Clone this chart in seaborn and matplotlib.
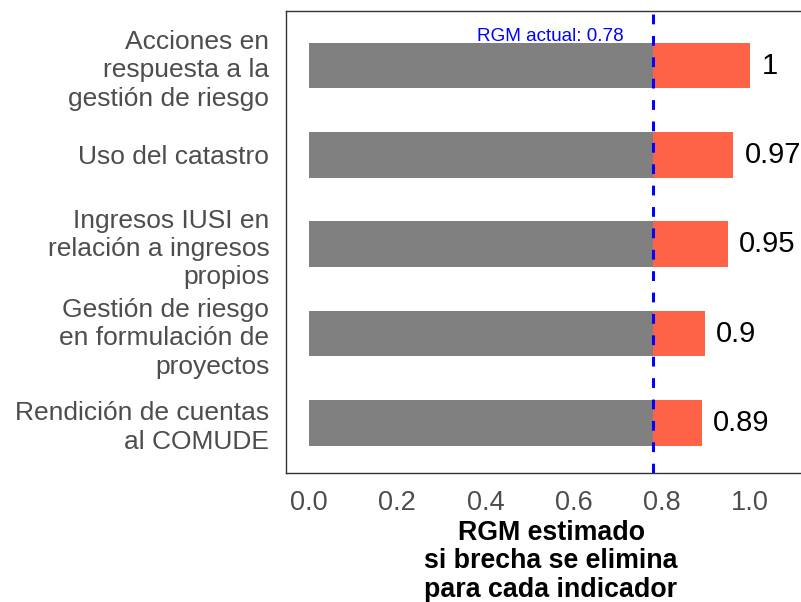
import matplotlib
matplotlib.use("Agg")
import matplotlib.pyplot as plt
import seaborn as sns
import pandas as pd

# ---- data ----
indicadores = [
    "Acciones en\nrespuesta a la\ngestión de riesgo",
    "Uso del catastro",
    "Ingresos IUSI en\nrelación a ingresos\npropios",
    "Gestión de riesgo\nen formulación de\nproyectos",
    "Rendición de cuentas\nal COMUDE",
]
rgm_estimado = [1.0, 0.962, 0.949, 0.897, 0.89]
etiquetas = ["1", "0.97", "0.95", "0.9", "0.89"]
rgm_actual = 0.78
x_ticks = [0.0, 0.2, 0.4, 0.6, 0.8, 1.0]
x_ticklabels = ["0.0", "0.2", "0.4", "0.6", "0.8", "1.0"]

df = pd.DataFrame({
    "indicador": indicadores,
    "estimado": rgm_estimado,
    "actual": [rgm_actual] * len(indicadores),
})

sns.set_style("white")
plt.rcParams["font.family"] = ["Liberation Sans", "DejaVu Sans"]

fig = plt.figure(figsize=(8.01, 6.02), dpi=100)
ax = fig.add_axes([286 / 801, (602 - 473) / 602, (816 - 286) / 801, (473 - 11) / 602])

sns.barplot(data=df, x="estimado", y="indicador", orient="h", color="#FF6347",
            width=0.51, saturation=1, errorbar=None, linewidth=0, ax=ax)
sns.barplot(data=df, x="actual", y="indicador", orient="h", color="#808080",
            width=0.51, saturation=1, errorbar=None, linewidth=0, ax=ax)

ax.axvline(rgm_actual, color="#0000FF", linewidth=2.2, dashes=(3.2, 3.8), zorder=5)

for i, (v, lab) in enumerate(zip(rgm_estimado, etiquetas)):
    ax.text(v + 0.026, i, lab, ha="left", va="center", fontsize=21, color="black")

ax.text(0.714, -0.278, f"RGM actual: {rgm_actual}", ha="right", va="baseline",
        fontsize=13.6, color="#0000FF")

ax.set_xlim(-0.052, 1.149)
ax.set_ylim(4.56, -0.61)
ax.set_xticks(x_ticks)
ax.set_xticklabels(x_ticklabels)
ax.tick_params(axis="x", length=0, pad=12, labelsize=19.5, labelcolor="#4D4D4D")
ax.tick_params(axis="y", length=0, pad=12, labelsize=19, labelcolor="#4D4D4D")
for t in ax.get_yticklabels():
    t.set_linespacing(1.23)

ax.set_ylabel("")
ax.set_xlabel("RGM estimado\nsi brecha se elimina\npara cada indicador",
              fontsize=19.3, fontweight="bold", color="black", labelpad=3,
              linespacing=1.12)

for s in ax.spines.values():
    s.set_color("#333333")
    s.set_linewidth(1.0)

fig.savefig("out.png", dpi=100)
